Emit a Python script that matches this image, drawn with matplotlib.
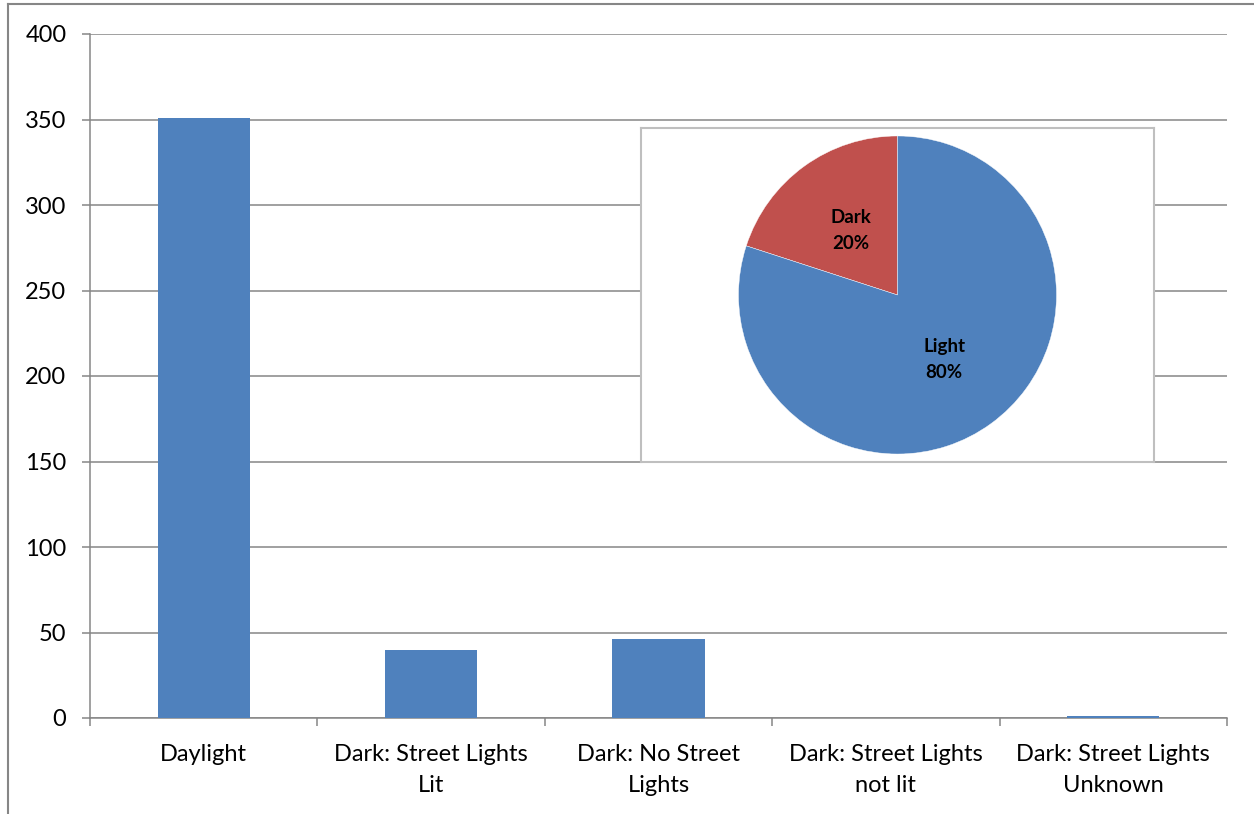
import matplotlib.pyplot as plt
from matplotlib.lines import Line2D
import numpy as np

plt.rcParams['font.family'] = ['Lato', 'DejaVu Sans']

# Collisions by lighting condition
categories = ["Daylight", "Dark: Street Lights\nLit", "Dark: No Street\nLights",
              "Dark: Street Lights\nnot lit", "Dark: Street Lights\nUnknown"]
counts = [351, 40, 46, 0, 1]

# Light vs dark share
pie_labels = ["Dark", "Light"]
pie_shares = [20, 80]

blue = "#4F81BD"
red = "#C0504D"
grey = "#868686"

fig = plt.figure(figsize=(12.54, 8.14), dpi=100)

# outer border of the chart object (top and left edges)
fig.add_artist(Line2D([8 / 1254, 1], [1 - 4 / 814, 1 - 4 / 814], color=grey, lw=1.5))
fig.add_artist(Line2D([8 / 1254, 8 / 1254], [0, 1 - 4 / 814], color=grey, lw=1.5))

ax = fig.add_axes([90 / 1254, 96 / 814, 1137 / 1254, 684 / 814])
x = np.arange(len(categories))
ax.bar(x, counts, width=0.405, color=blue, zorder=3)

ax.set_xlim(-0.5, len(categories) - 0.5)
ax.set_ylim(0, 400)
ax.set_yticks(np.arange(0, 401, 50))
ax.tick_params(axis='y', length=6, width=1.1, color=grey, pad=11, labelsize=17)
ax.yaxis.grid(True, color=grey, lw=1.1, zorder=0)

ax.set_xticks(x)
ax.set_xticklabels(categories, fontsize=17, linespacing=1.62)
ax.tick_params(axis='x', length=0, pad=18.5)
ax.set_xticks(np.arange(-0.5, len(categories), 1), minor=True)
ax.tick_params(axis='x', which='minor', length=6, width=1.1, color=grey)

for side in ['top', 'right']:
    ax.spines[side].set_visible(False)
for side in ['left', 'bottom']:
    ax.spines[side].set_color(grey)
    ax.spines[side].set_linewidth(1.1)

# inset pie
pax = fig.add_axes([641 / 1254, 352 / 814, 513 / 1254, 334 / 814])
pax.pie(pie_shares, labels=[f"{l}\n{v}%" for l, v in zip(pie_labels, pie_shares)],
        colors=[red, blue], startangle=90, counterclock=True, labeldistance=0.5,
        textprops=dict(fontsize=13.5, fontweight='bold', ha='center', va='center',
                       color='black', linespacing=1.65),
        wedgeprops=dict(linewidth=0.3, edgecolor='white'))
pax.set_xlim(-1.613, 1.613)
pax.set_ylim(-1.05, 1.05)
pax.set_frame_on(True)
pax.set_facecolor('white')
for s in pax.spines.values():
    s.set_visible(True)
    s.set_color("#BFBFBF")
    s.set_linewidth(1.5)
pax.set_xticks([])
pax.set_yticks([])

fig.savefig("out.png", dpi=100)
